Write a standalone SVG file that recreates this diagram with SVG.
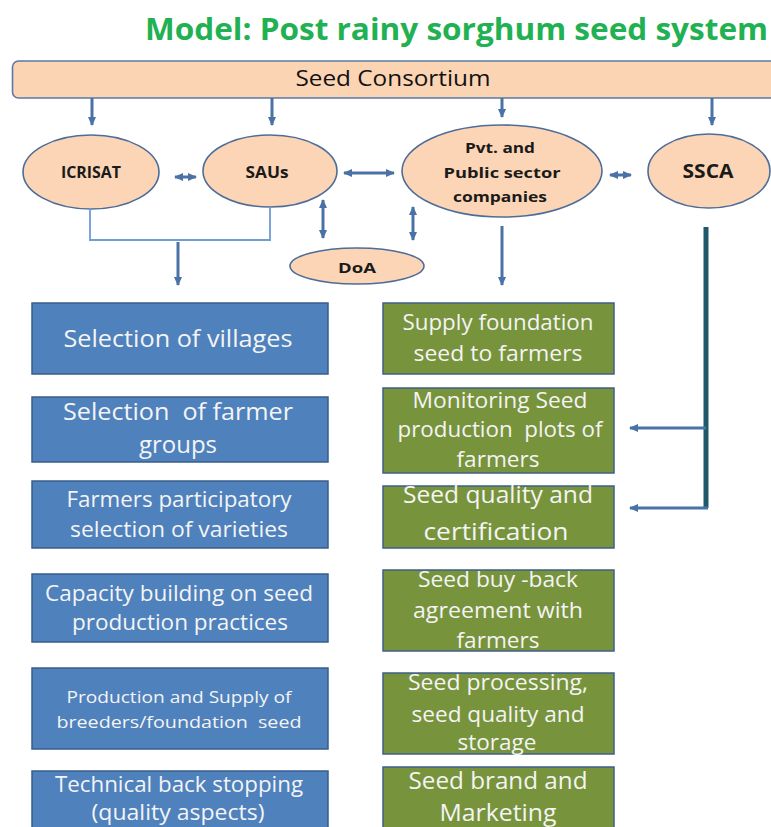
<svg xmlns="http://www.w3.org/2000/svg" width="771" height="827" viewBox="0 0 771 827">
  <style>
    .title { font-family: "Open Sans", "Liberation Sans", sans-serif; font-weight: bold; fill: #1fb152; }
    .oval { fill: #fbd5b5; stroke: #4d6d98; stroke-width: 1.6; }
    .oval-text { font-family: "Open Sans", "Liberation Sans", sans-serif; font-weight: bold; fill: #1a1a1a; text-anchor: middle; }
    .bar { fill: #fbd4b4; stroke: #5a7aa5; stroke-width: 1.6; }
    .bar-text { font-family: "Open Sans", "Liberation Sans", sans-serif; fill: #111; text-anchor: middle; }
    .blue { fill: #4f81bd; stroke: #385d8a; stroke-width: 1.5; }
    .green { fill: #77933c; stroke: #3e5f8c; stroke-width: 1.5; }
    .box-text { font-family: "Open Sans", "Liberation Sans", sans-serif; fill: #f4f4f4; text-anchor: middle; white-space: pre; }
    .link { fill: none; stroke: #4a72a6; stroke-width: 3; }
    .thin { fill: none; stroke: #6f9bd6; stroke-width: 1.8; }
    .trunk { fill: none; stroke: #1f5869; stroke-width: 5; }
  </style>
  <defs>
    <marker id="head" markerUnits="userSpaceOnUse" markerWidth="9" markerHeight="8" refX="8" refY="4" orient="auto-start-reverse">
      <path d="M0,0 L9,4 L0,8 z" fill="#4a72a6"/>
    </marker>
  </defs>

  <!-- heading -->
  <text class="title" x="145" y="40" font-size="31" textLength="623" lengthAdjust="spacingAndGlyphs">Model: Post rainy sorghum seed system</text>

  <!-- consortium bar -->
  <g id="seed-consortium">
    <rect class="bar" x="12.5" y="61" width="780" height="37" rx="6"/>
    <text class="bar-text" x="393" y="86" font-size="22" textLength="195" lengthAdjust="spacingAndGlyphs">Seed Consortium</text>
  </g>

  <!-- partner ovals -->
  <g id="icrisat">
    <ellipse class="oval" cx="91" cy="172" rx="68" ry="37"/>
    <text class="oval-text" x="91" y="178" font-size="16" textLength="60" lengthAdjust="spacingAndGlyphs">ICRISAT</text>
  </g>
  <g id="saus">
    <ellipse class="oval" cx="270" cy="171" rx="67" ry="36"/>
    <text class="oval-text" x="267" y="178" font-size="16" textLength="43" lengthAdjust="spacingAndGlyphs">SAUs</text>
  </g>
  <g id="companies">
    <ellipse class="oval" cx="502" cy="171" rx="100" ry="46"/>
    <text class="oval-text" x="500" y="153" font-size="15" textLength="70" lengthAdjust="spacingAndGlyphs">Pvt. and</text>
    <text class="oval-text" x="502" y="178" font-size="15" textLength="117" lengthAdjust="spacingAndGlyphs">Public sector</text>
    <text class="oval-text" x="500" y="202" font-size="15" textLength="94" lengthAdjust="spacingAndGlyphs">companies</text>
  </g>
  <g id="ssca">
    <ellipse class="oval" cx="709" cy="171" rx="61" ry="37"/>
    <text class="oval-text" x="708" y="178" font-size="19" textLength="51" lengthAdjust="spacingAndGlyphs">SSCA</text>
  </g>
  <g id="doa">
    <ellipse class="oval" cx="357" cy="266" rx="67" ry="18"/>
    <text class="oval-text" x="357" y="273" font-size="15" textLength="38" lengthAdjust="spacingAndGlyphs">DoA</text>
  </g>

  <!-- connectors -->
  <g id="connectors">
    <line class="link" x1="92" y1="98" x2="92" y2="125" marker-end="url(#head)"/>
    <line class="link" x1="272" y1="98" x2="272" y2="125" marker-end="url(#head)"/>
    <line class="link" x1="502" y1="98" x2="502" y2="117" marker-end="url(#head)"/>
    <line class="link" x1="712" y1="98" x2="712" y2="125" marker-end="url(#head)"/>

    <line class="link" x1="175" y1="177" x2="196" y2="177" stroke-width="2.5" marker-start="url(#head)" marker-end="url(#head)"/>
    <line class="link" x1="344" y1="173" x2="394" y2="173" stroke-width="4" marker-start="url(#head)" marker-end="url(#head)"/>
    <line class="link" x1="610" y1="175" x2="631" y2="175" stroke-width="2.5" marker-start="url(#head)" marker-end="url(#head)"/>

    <line class="link" x1="323" y1="200" x2="323" y2="238" marker-start="url(#head)" marker-end="url(#head)"/>
    <line class="link" x1="413" y1="207" x2="413" y2="240" marker-start="url(#head)" marker-end="url(#head)"/>

    <polyline class="thin" points="90,208 90,240 270,240 270,207"/>
    <line class="link" x1="178" y1="242" x2="178" y2="285" marker-end="url(#head)"/>
    <line class="link" x1="502" y1="226" x2="502" y2="285" marker-end="url(#head)"/>

    <polyline class="trunk" points="706,227 706,508"/>
    <line class="link" x1="706" y1="428" x2="630" y2="428" marker-end="url(#head)"/>
    <line class="link" x1="708" y1="508" x2="630" y2="508" marker-end="url(#head)"/>
  </g>

  <!-- activity boxes, left column -->
  <g id="selection-of-villages">
    <rect class="blue" x="32" y="303" width="296" height="71"/>
    <text class="box-text" x="178" y="347" font-size="24" textLength="229" lengthAdjust="spacingAndGlyphs">Selection of villages</text>
  </g>
  <g id="selection-of-farmer-groups">
    <rect class="blue" x="32" y="397" width="296" height="65"/>
    <text class="box-text" x="178" y="420" font-size="24" textLength="230" lengthAdjust="spacingAndGlyphs" xml:space="preserve">Selection  of farmer</text>
    <text class="box-text" x="178" y="453" font-size="24" textLength="78" lengthAdjust="spacingAndGlyphs">groups</text>
  </g>
  <g id="participatory-selection">
    <rect class="blue" x="32" y="481" width="296" height="67"/>
    <text class="box-text" x="179" y="507" font-size="21" textLength="225" lengthAdjust="spacingAndGlyphs">Farmers participatory</text>
    <text class="box-text" x="179" y="537" font-size="21" textLength="218" lengthAdjust="spacingAndGlyphs">selection of varieties</text>
  </g>
  <g id="capacity-building">
    <rect class="blue" x="32" y="574" width="296" height="68"/>
    <text class="box-text" x="179" y="601" font-size="21" textLength="268" lengthAdjust="spacingAndGlyphs">Capacity building on seed</text>
    <text class="box-text" x="180" y="630" font-size="21" textLength="216" lengthAdjust="spacingAndGlyphs">production practices</text>
  </g>
  <g id="breeder-seed">
    <rect class="blue" x="32" y="668" width="296" height="81"/>
    <text class="box-text" x="179" y="703" font-size="16" textLength="225" lengthAdjust="spacingAndGlyphs">Production and Supply of</text>
    <text class="box-text" x="179" y="728" font-size="16" textLength="245" lengthAdjust="spacingAndGlyphs" xml:space="preserve">breeders/foundation  seed</text>
  </g>
  <g id="technical-backstopping">
    <rect class="blue" x="32" y="771" width="296" height="70"/>
    <text class="box-text" x="179" y="792" font-size="21" textLength="248" lengthAdjust="spacingAndGlyphs">Technical back stopping</text>
    <text class="box-text" x="178" y="820" font-size="21" textLength="173" lengthAdjust="spacingAndGlyphs">(quality aspects)</text>
  </g>

  <!-- activity boxes, right column -->
  <g id="supply-foundation-seed">
    <rect class="green" x="383" y="303" width="231" height="71"/>
    <text class="box-text" x="498" y="330" font-size="21" textLength="191" lengthAdjust="spacingAndGlyphs">Supply foundation</text>
    <text class="box-text" x="498" y="361" font-size="21" textLength="169" lengthAdjust="spacingAndGlyphs">seed to farmers</text>
  </g>
  <g id="monitoring-plots">
    <rect class="green" x="383" y="388" width="231" height="85"/>
    <text class="box-text" x="500" y="408" font-size="21" textLength="175" lengthAdjust="spacingAndGlyphs">Monitoring Seed</text>
    <text class="box-text" x="500" y="437" font-size="21" textLength="205" lengthAdjust="spacingAndGlyphs" xml:space="preserve">production  plots of</text>
    <text class="box-text" x="498" y="467" font-size="21" textLength="83" lengthAdjust="spacingAndGlyphs">farmers</text>
  </g>
  <g id="quality-certification">
    <rect class="green" x="383" y="486" width="231" height="62"/>
    <text class="box-text" x="498" y="503" font-size="24" textLength="190" lengthAdjust="spacingAndGlyphs">Seed quality and</text>
    <text class="box-text" x="496" y="540" font-size="24" textLength="145" lengthAdjust="spacingAndGlyphs">certification</text>
  </g>
  <g id="buy-back">
    <rect class="green" x="383" y="570" width="231" height="81"/>
    <text class="box-text" x="498" y="587" font-size="21" textLength="160" lengthAdjust="spacingAndGlyphs">Seed buy -back</text>
    <text class="box-text" x="498" y="618" font-size="21" textLength="170" lengthAdjust="spacingAndGlyphs">agreement with</text>
    <text class="box-text" x="498" y="648" font-size="21" textLength="83" lengthAdjust="spacingAndGlyphs">farmers</text>
  </g>
  <g id="processing-storage">
    <rect class="green" x="383" y="673" width="231" height="81"/>
    <text class="box-text" x="498" y="690" font-size="21" textLength="180" lengthAdjust="spacingAndGlyphs">Seed processing,</text>
    <text class="box-text" x="498" y="722" font-size="21" textLength="173" lengthAdjust="spacingAndGlyphs">seed quality and</text>
    <text class="box-text" x="497" y="750" font-size="21" textLength="79" lengthAdjust="spacingAndGlyphs">storage</text>
  </g>
  <g id="brand-marketing">
    <rect class="green" x="383" y="767" width="231" height="75"/>
    <text class="box-text" x="498" y="789" font-size="24" textLength="179" lengthAdjust="spacingAndGlyphs">Seed brand and</text>
    <text class="box-text" x="498" y="821" font-size="23" textLength="117" lengthAdjust="spacingAndGlyphs">Marketing</text>
  </g>
</svg>
